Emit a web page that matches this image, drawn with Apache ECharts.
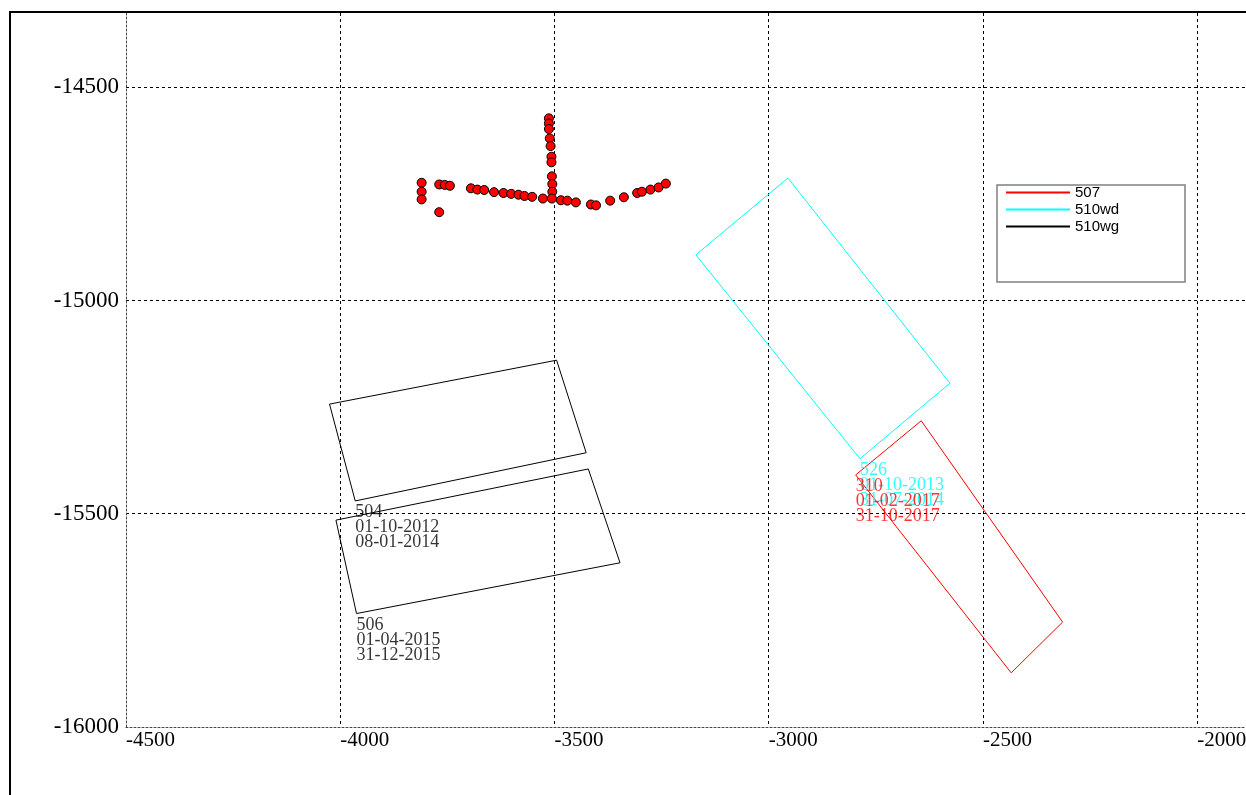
<!DOCTYPE html>
<html>
<head>
<meta charset="utf-8">
<script src="https://cdn.jsdelivr.net/npm/echarts@6/dist/echarts.min.js"></script>
<style>
html,body{margin:0;padding:0;background:#fff;}
#c{width:1246px;height:795px;}
</style>
</head>
<body>
<div id="c"></div>
<script>
// ---- data ----
const legendNames = ['507', '510wd', '510wg'];

const poly507 = [[-2797,-15409],[-2644,-15282],[-2314,-15754],[-2434,-15873]];
const poly510wd = [[-3170,-14893],[-2955,-14713],[-2577,-15194],[-2787,-15371]];
const poly504 = [[-4025,-15243],[-3495,-15140],[-3426,-15357],[-3965,-15470]];
const poly506 = [[-4010,-15515],[-3421,-15395],[-3347,-15615],[-3962,-15734]];

const label507 = { at: [-2797,-15409], text: '310\n01-02-2017\n31-10-2017' };
const label510wd = { at: [-2787,-15371], text: '526\n01-10-2013\n31-07-2014' };
const label504 = { at: [-3965,-15470], text: '504\n01-10-2012\n08-01-2014' };
const label506 = { at: [-3962,-15734], text: '506\n01-04-2015\n31-12-2015' };

const dotsRow = [
  [-3810,-14724],[-3810,-14745],[-3810,-14763],[-3769,-14793],[-3769,-14728],
  [-3756,-14729],[-3744,-14731],[-3695,-14737],[-3680,-14740],[-3664,-14741],
  [-3641,-14746],[-3619,-14748],[-3601,-14750],[-3584,-14752],[-3570,-14755],
  [-3552,-14757],[-3527,-14761],[-3485,-14765],[-3470,-14766],[-3450,-14770],
  [-3415,-14775],[-3403,-14777],[-3370,-14766],[-3338,-14758],[-3307,-14748],
  [-3296,-14745],[-3276,-14740],[-3257,-14735],[-3240,-14726]
];
const dotsColumn = [
  [-3513,-14573],[-3513,-14585],[-3513,-14598],[-3511,-14620],[-3509,-14638],
  [-3507,-14663],[-3507,-14676],[-3506,-14709],[-3505,-14727],[-3505,-14745],
  [-3506,-14761]
];

const xMin = -4500, xMax = -1886, yMin = -16000, yMax = -14326, step = 500;

// ---- chart ----
const chart = echarts.init(document.getElementById('c'), null, {renderer: 'canvas'});

function closed(p) { return p.concat([p[0]]); }
function polySeries(name, poly, color) {
  return {
    name: name, type: 'line', data: closed(poly), symbol: 'none', silent: true,
    color: color, itemStyle: {color: color},
    lineStyle: {color: color, width: 1}, z: 3
  };
}
function labelSeries(lbl, color) {
  return {
    name: 'lbl' + lbl.text.slice(0,3), type: 'scatter', silent: true,
    symbol: 'circle', symbolSize: 0, itemStyle: {color: 'rgba(0,0,0,0)'},
    data: [{value: lbl.at, name: lbl.text}],
    label: {
      show: true, formatter: '{b}', position: [0, 4], align: 'left', verticalAlign: 'top',
      color: color, fontFamily: 'Liberation Serif', fontSize: 18, lineHeight: 15
    },
    labelLayout: {hideOverlap: false},
    z: 4
  };
}

const serifAxis = {fontFamily: 'Liberation Serif', color: '#000', formatter: function (v) { return String(v); }};

chart.setOption({
  animation: false,
  backgroundColor: '#fff',
  grid: {left: 126, right: 0, top: 13, bottom: 68, containLabel: false, outerBoundsMode: 'none'},
  legend: {
    data: legendNames, orient: 'vertical', left: 1006, top: 185,
    itemWidth: 64, itemHeight: 2, itemGap: 2, icon: 'rect', padding: 0,
    textStyle: {fontFamily: 'Liberation Sans', fontSize: 15, color: '#000', lineHeight: 15},
    z: 10, selectedMode: false
  },
  xAxis: {
    type: 'value', min: xMin, max: xMax, interval: step,
    axisLine: {show: true, lineStyle: {color: '#444', type: [2, 2], width: 1}},
    axisTick: {show: false},
    axisLabel: Object.assign({fontSize: 21, align: 'left', margin: 3, showMaxLabel: false}, serifAxis),
    splitLine: {show: true, showMinLine: false, showMaxLine: false, lineStyle: {color: '#000', type: [3, 3], width: 1}}
  },
  yAxis: {
    type: 'value', min: yMin, max: yMax, interval: step,
    axisLine: {show: true, lineStyle: {color: '#444', type: [2, 2], width: 1}},
    axisTick: {show: false},
    axisLabel: Object.assign({fontSize: 23, margin: 7, showMaxLabel: false}, serifAxis),
    splitLine: {show: true, showMinLine: false, showMaxLine: false, lineStyle: {color: '#000', type: [3, 3], width: 1}}
  },
  graphic: [
    {type: 'polyline', shape: {points: [[10, 795], [10, 12], [1246, 12]]},
     style: {stroke: '#000', lineWidth: 2, fill: null}, z: 20, silent: true},
    {type: 'rect', shape: {x: 997, y: 185, width: 188, height: 97},
     style: {stroke: '#808080', lineWidth: 1.5, fill: '#fff'}, z: 5, silent: true}
  ],
  series: [
    polySeries('510wg', poly504, '#000000'),
    polySeries('510wg', poly506, '#000000'),
    polySeries('510wd', poly510wd, '#00ffff'),
    polySeries('507', poly507, '#ff0000'),
    {
      name: 'dots', type: 'scatter', silent: true, symbol: 'circle', symbolSize: 9,
      data: dotsRow.concat(dotsColumn),
      itemStyle: {color: '#ff0000', borderColor: '#000', borderWidth: 1, opacity: 1}, z: 6
    },
    labelSeries(label504, '#000000'),
    labelSeries(label506, '#000000'),
    labelSeries(label510wd, '#00ffff'),
    labelSeries(label507, '#ff0000')
  ]
});
</script>
</body>
</html>
